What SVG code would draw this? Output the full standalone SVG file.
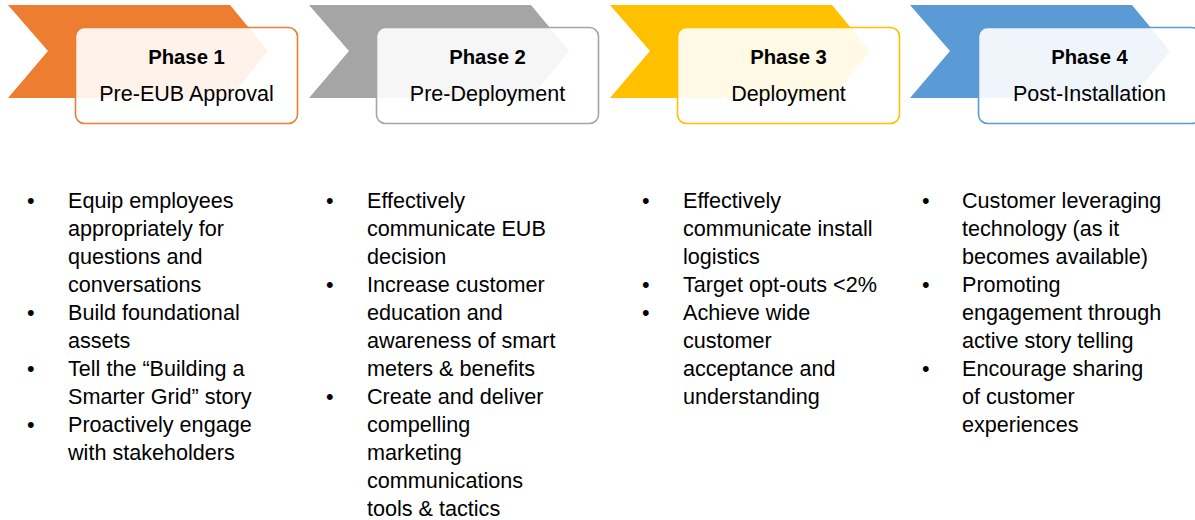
<svg xmlns="http://www.w3.org/2000/svg" width="1195" height="520" viewBox="0 0 1195 520">
<defs>
<style>
.chev{stroke:none}
.box{fill:#ffffff;fill-opacity:0.9;stroke-width:1.6}
.t1{font-family:"Liberation Sans",Arial,sans-serif;font-size:20.3px;font-weight:bold;fill:#000;text-anchor:middle}
.t2{font-family:"Liberation Sans",Arial,sans-serif;font-size:21.5px;fill:#000;text-anchor:middle}
.body{font-family:"Liberation Sans",Arial,sans-serif;font-size:21.6px;fill:#000}
</style>
<path id="chevshape" d="M8,5 L230,5 L268,51 L230,98 L8,98 L48,51 Z"/>
</defs>
<rect width="1195" height="520" fill="#ffffff"/>

<g id="phase1">
<use href="#chevshape" class="chev" fill="#ED7D31"/>
<rect class="box" x="75.5" y="27.5" width="222" height="96" rx="9" stroke="#ED7D31"/>
<text class="t1" x="186.5" y="64">Phase 1</text>
<text class="t2" x="186.5" y="101">Pre-EUB Approval</text>
</g>

<g id="phase2">
<use href="#chevshape" class="chev" fill="#A5A5A5" transform="translate(301,0)"/>
<rect class="box" x="376.5" y="27.5" width="222" height="96" rx="9" stroke="#A5A5A5"/>
<text class="t1" x="487.5" y="64">Phase 2</text>
<text class="t2" x="487.5" y="101">Pre-Deployment</text>
</g>

<g id="phase3">
<use href="#chevshape" class="chev" fill="#FFC000" transform="translate(602,0)"/>
<rect class="box" x="677.5" y="27.5" width="222" height="96" rx="9" stroke="#FFC000"/>
<text class="t1" x="788.5" y="64">Phase 3</text>
<text class="t2" x="788.5" y="101">Deployment</text>
</g>

<g id="phase4">
<use href="#chevshape" class="chev" fill="#5B9BD5" transform="translate(902,0)"/>
<rect class="box" x="978.5" y="27.5" width="222" height="96" rx="9" stroke="#5B9BD5"/>
<text class="t1" x="1089.5" y="64">Phase 4</text>
<text class="t2" x="1089.5" y="101">Post-Installation</text>
</g>

<g id="list1" class="body">
<text x="27" y="208">•</text><text x="68" y="208">Equip employees</text>
<text x="68" y="236">appropriately for</text>
<text x="68" y="264">questions and</text>
<text x="68" y="292">conversations</text>
<text x="27" y="320">•</text><text x="68" y="320">Build foundational</text>
<text x="68" y="348">assets</text>
<text x="27" y="376">•</text><text x="68" y="376">Tell the “Building a</text>
<text x="68" y="404">Smarter Grid” story</text>
<text x="27" y="432">•</text><text x="68" y="432">Proactively engage</text>
<text x="68" y="460">with stakeholders</text>
</g>

<g id="list2" class="body">
<text x="326" y="208">•</text><text x="367" y="208">Effectively</text>
<text x="367" y="236">communicate EUB</text>
<text x="367" y="264">decision</text>
<text x="326" y="292">•</text><text x="367" y="292">Increase customer</text>
<text x="367" y="320">education and</text>
<text x="367" y="348">awareness of smart</text>
<text x="367" y="376">meters &amp; benefits</text>
<text x="326" y="404">•</text><text x="367" y="404">Create and deliver</text>
<text x="367" y="432">compelling</text>
<text x="367" y="460">marketing</text>
<text x="367" y="488">communications</text>
<text x="367" y="516">tools &amp; tactics</text>
</g>

<g id="list3" class="body">
<text x="642" y="208">•</text><text x="683" y="208">Effectively</text>
<text x="683" y="236">communicate install</text>
<text x="683" y="264">logistics</text>
<text x="642" y="292">•</text><text x="683" y="292">Target opt-outs &lt;2%</text>
<text x="642" y="320">•</text><text x="683" y="320">Achieve wide</text>
<text x="683" y="348">customer</text>
<text x="683" y="376">acceptance and</text>
<text x="683" y="404">understanding</text>
</g>

<g id="list4" class="body">
<text x="922" y="208">•</text><text x="962" y="208">Customer leveraging</text>
<text x="962" y="236">technology (as it</text>
<text x="962" y="264">becomes available)</text>
<text x="922" y="292">•</text><text x="962" y="292">Promoting</text>
<text x="962" y="320">engagement through</text>
<text x="962" y="348">active story telling</text>
<text x="922" y="376">•</text><text x="962" y="376">Encourage sharing</text>
<text x="962" y="404">of customer</text>
<text x="962" y="432">experiences</text>
</g>

<g id="connectors"></g>
</svg>
